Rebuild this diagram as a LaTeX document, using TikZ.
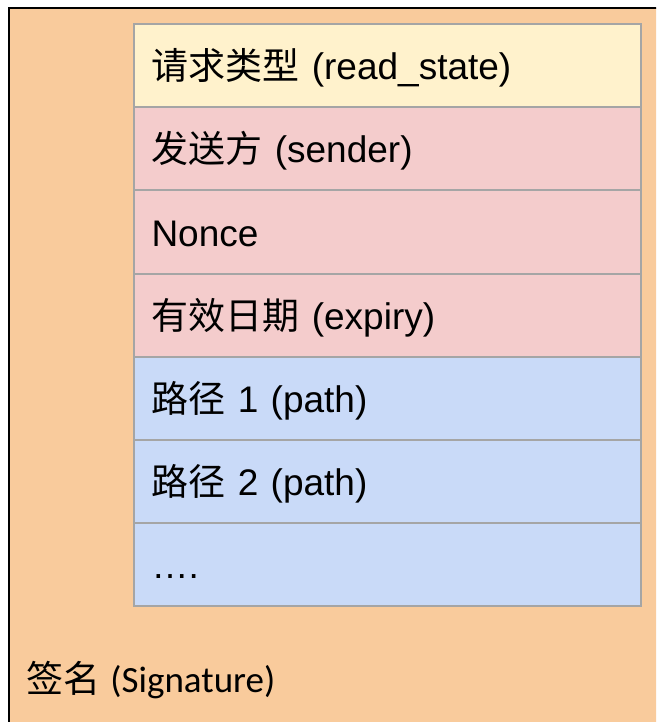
\documentclass[tikz,border=0pt]{standalone}
\usepackage{fontspec}
\setmainfont{Liberation Sans}
\newfontfamily\cjk{Noto Sans CJK SC}
\newfontfamily\calibri{Carlito}
\usepackage{xcolor}
\usetikzlibrary{positioning}
\definecolor{sigorange}{HTML}{F9CB9C}
\definecolor{typeyellow}{HTML}{FFF2CC}
\definecolor{metapink}{HTML}{F4CCCC}
\definecolor{pathblue}{HTML}{C9DAF8}
\definecolor{fieldgrey}{HTML}{A5A5A5}

\begin{document}
\begin{tikzpicture}[x=1pt, y=-1pt,
    field/.style={draw=fieldgrey, line width=2pt, rectangle,
        minimum width=507pt, minimum height=83.2pt,
        inner xsep=17.5pt, inner ysep=0pt, text width=472pt, align=left,
        text height=34pt, text depth=6pt,
        font=\fontsize{37}{41}\selectfont}]
                    \clip (0,0) rectangle (656,722);
                    \node[draw=black, line width=2pt, fill=sigorange, rectangle,
                        minimum width=700pt, minimum height=760pt, anchor=north west] (envelope) at (8,7) {};

                    \node[field, fill=typeyellow] (rtype) at (387.5,65.6) {{\cjk 请求类型} (read\_state)};
                    \node[field, fill=metapink] (sender) at (387.5,148.8) {{\cjk 发送方} (sender)};
                    \node[field, fill=metapink] (nonce) at (387.5,232) {Nonce};
                    \node[field, fill=metapink] (expiry) at (387.5,315.2) {{\cjk 有效日期} (expiry)};
                    \node[field, fill=pathblue] (path1) at (387.5,398.4) {{\cjk 路径} 1 (path)};
                    \node[field, fill=pathblue] (path2) at (387.5,481.6) {{\cjk 路径} 2 (path)};
                    \node[field, fill=pathblue] (more) at (387.5,564.8) {….};

                    \node[anchor=base west, inner sep=0pt, font=\fontsize{37}{41}\selectfont]
                        (sig) at (26,692) {{\cjk 签名} {\calibri (Signature)}};
                \end{tikzpicture}
\end{document}
